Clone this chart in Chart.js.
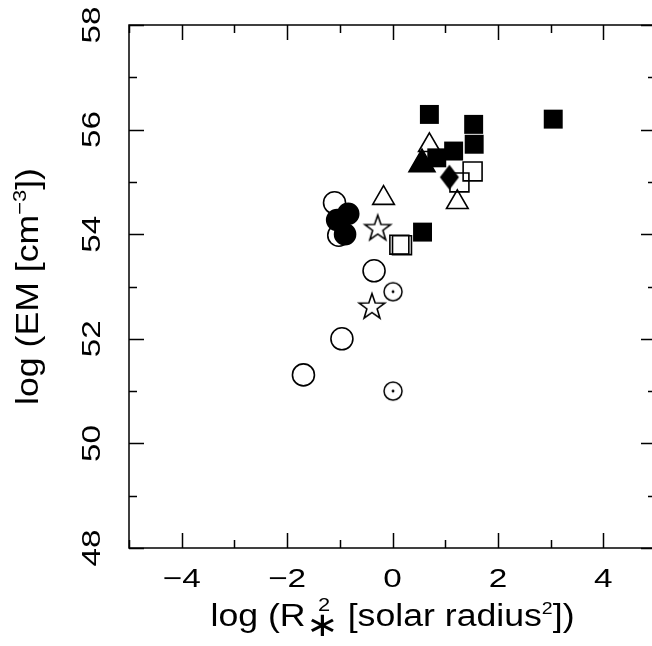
<!DOCTYPE html>
<html><head><meta charset="utf-8">
<script src="https://cdn.jsdelivr.net/npm/chart.js@4.4.0/dist/chart.umd.min.js"></script>
<style>
html,body{margin:0;padding:0;background:#fff;overflow:hidden;width:652px;height:646px}
#wrap{position:absolute;left:0;top:0;width:660px;height:646px}
</style>
</head><body><div id="wrap"><canvas id="c" width="660" height="646"></canvas></div>
<script>
const xTicks = [-4, -2, 0, 2, 4];
const yTicks = [48, 50, 52, 54, 56, 58];
const openCircles = [{x:-1.69,y:51.31},{x:-0.96,y:52.0},{x:-0.35,y:53.3},{x:-1.10,y:54.6},{x:-1.02,y:53.98}];
const filledCircles = [{x:-1.05,y:54.27},{x:-0.84,y:54.39},{x:-0.90,y:54.0}];
const dotCircles = [{x:0.01,y:52.9},{x:0.01,y:51.0}];
const openStars = [{x:-0.28,y:54.13},{x:-0.39,y:52.63}];
const openTriangles = [{x:-0.17,y:54.69},{x:0.70,y:55.70},{x:1.23,y:54.61}];
const filledTriangles = [{x:0.56,y:55.34}];
const openSquares = [{x:0.13,y:53.80},{x:0.18,y:53.79},{x:1.52,y:55.2},{x:1.27,y:54.99}];
const filledDiamonds = [{x:1.08,y:55.09}];
const filledSquares = [{x:0.70,y:56.29},{x:1.54,y:56.10},{x:1.55,y:55.72},{x:3.05,y:56.2},{x:1.16,y:55.59},{x:0.84,y:55.46},{x:0.57,y:54.04}];

const FONT = '"Liberation Sans", Arial, Helvetica, sans-serif';
const TICK_SIZE = 26, TICK_STRETCH = 1.28;
const TITLE_SIZE = 31, TITLE_STRETCH = 1.15;

function makeStar(){
  const c=document.createElement('canvas'); c.width=c.height=32;
  const g=c.getContext('2d'); g.beginPath();
  for(let i=0;i<10;i++){const r=i%2?5.4:13.5;const a=-Math.PI/2+i*Math.PI/5;
    g.lineTo(16+r*Math.cos(a),17.3+r*Math.sin(a));}
  g.closePath(); g.fillStyle='#fff'; g.fill(); g.lineWidth=1.6; g.strokeStyle='#000'; g.lineJoin='miter'; g.stroke();
  return c;
}
function makeDotCircle(){
  const c=document.createElement('canvas'); c.width=c.height=24;
  const g=c.getContext('2d'); g.beginPath(); g.arc(12,12,9,0,Math.PI*2);
  g.fillStyle='#fff'; g.fill(); g.lineWidth=1.5; g.strokeStyle='#000'; g.stroke();
  g.beginPath(); g.arc(12,12,1.4,0,Math.PI*2); g.fillStyle='#000'; g.fill();
  return c;
}
function makeDiamond(){
  const c=document.createElement('canvas'); c.width=22; c.height=28;
  const g=c.getContext('2d'); g.beginPath();
  g.moveTo(11,1.5); g.lineTo(20.5,14); g.lineTo(11,26.5); g.lineTo(1.5,14); g.closePath();
  g.fillStyle='#000'; g.fill();
  return c;
}
function ds(data, style, radius, bg, order, bw){
  return {data, pointStyle:style, pointRadius:radius, backgroundColor:bg, borderColor:'#000',
    borderWidth: bw===undefined?1.6:bw, order, showLine:false};
}
function fmt(v){ return v<0 ? '\u2212'+Math.abs(v) : String(v); }
function drawRuns(ctx, runs){
  let w=0;
  runs.forEach(r=>{ctx.font=r[1]+'px '+FONT; r.w = r[3]!==undefined ? r[3] : ctx.measureText(r[0]).width; w+=r.w;});
  let x=-w/2;
  runs.forEach(r=>{ if(r[0]){ctx.font=r[1]+'px '+FONT; ctx.fillText(r[0],x+(r[4]||0),r[2]);} x+=r.w; });
}

const framePlugin = {
  id:'frame',
  beforeDatasetsDraw(chart){
    const {ctx, chartArea:a, scales:{x, y}} = chart;
    ctx.save();
    ctx.strokeStyle='#000'; ctx.lineWidth=1.5;
    ctx.strokeRect(a.left, a.top, a.right-a.left, a.bottom-a.top);
    ctx.beginPath();
    for(let v=-5; v<=5; v++){
      const p = Math.round(x.getPixelForValue(v))+0.5;
      const L = (v%2===0)?15:8;
      ctx.moveTo(p,a.bottom); ctx.lineTo(p,a.bottom-L);
      ctx.moveTo(p,a.top); ctx.lineTo(p,a.top+L);
    }
    for(let v=48; v<=58; v++){
      const p = Math.round(y.getPixelForValue(v))+0.5;
      const L = (v%2===0)?15:8;
      ctx.moveTo(a.left,p); ctx.lineTo(a.left+L,p);
      ctx.moveTo(a.right,p); ctx.lineTo(a.right-L,p);
    }
    ctx.stroke();
    ctx.fillStyle='#000'; ctx.textBaseline='alphabetic'; ctx.textAlign='left';
    ctx.font=TICK_SIZE+'px '+FONT;
    xTicks.forEach(v=>{
      const p=x.getPixelForValue(v);
      ctx.save(); ctx.translate(p,587); ctx.scale(TICK_STRETCH,1); ctx.textAlign='center';
      ctx.fillText(fmt(v),0,0); ctx.restore();
    });
    yTicks.forEach(v=>{
      const p=y.getPixelForValue(v);
      ctx.save(); ctx.translate(100,p); ctx.rotate(-Math.PI/2); ctx.scale(TICK_STRETCH,1); ctx.textAlign='center';
      ctx.fillText(fmt(v),0,0); ctx.restore();
    });
    const S=TITLE_SIZE, sup=Math.round(S*0.62);
    ctx.save(); ctx.translate(38,(a.top+a.bottom)/2); ctx.rotate(-Math.PI/2); ctx.scale(TITLE_STRETCH,1);
    drawRuns(ctx, [['log (EM [cm',S,0],['\u22123',sup,-12],['])',S,0]]);
    ctx.restore();
    ctx.font='34px '+FONT; const wStar=ctx.measureText('\u2217').width;
    ctx.save(); ctx.translate((a.left+a.right)/2,626); ctx.scale(TITLE_STRETCH,1);
    ctx.font=sup+'px '+FONT; const w2=ctx.measureText('2').width;
    const stackW=Math.max(wStar,w2);
    drawRuns(ctx, [
      ['log (R',S,0],
      ['\u2217',34,10,stackW,(stackW-wStar)/2],
      ['2',sup,-15,0,(stackW-w2)/2-stackW+2],
      [' [solar radius',S,0],
      ['2',Math.round(S*0.55),-12],
      ['])',S,0]
    ]);
    ctx.restore();
    ctx.restore();
  }
};

new Chart(document.getElementById('c'), {
  type:'scatter',
  data:{datasets:[
    ds(openCircles,'circle',11,'#fff',8),
    ds(filledCircles,'circle',10.5,'#000',7),
    ds(dotCircles,makeDotCircle(),9,'#fff',6),
    ds(openStars,makeStar(),13,'#fff',5),
    ds(openTriangles,'triangle',12.5,'#fff',4),
    ds(filledTriangles,'triangle',15,'#000',3),
    ds(openSquares,'rect',13.4,'rgba(0,0,0,0)',0),
    ds(filledDiamonds,makeDiamond(),12,'#000',2),
    ds(filledSquares,'rect',13.4,'#000',1,0)
  ]},
  options:{
    responsive:false, animation:false, events:[],
    layout:{autoPadding:false, padding:{left:0,top:25,right:4,bottom:0}},
    plugins:{legend:{display:false}, tooltip:{enabled:false}},
    scales:{
      x:{type:'linear', min:-5, max:5,
        afterBuildTicks:s=>{s.ticks=xTicks.map(v=>({value:v}));},
        ticks:{display:false},
        grid:{display:false, drawTicks:false}, border:{display:false},
        afterFit:s=>{s.height=98; s.paddingLeft=0; s.paddingRight=0;}},
      y:{type:'linear', min:48, max:58,
        afterBuildTicks:s=>{s.ticks=yTicks.map(v=>({value:v}));},
        ticks:{display:false},
        grid:{display:false, drawTicks:false}, border:{display:false},
        afterFit:s=>{s.width=129; s.paddingTop=0; s.paddingBottom=0;}}
    }
  },
  plugins:[framePlugin]
});
</script>
</body></html>
